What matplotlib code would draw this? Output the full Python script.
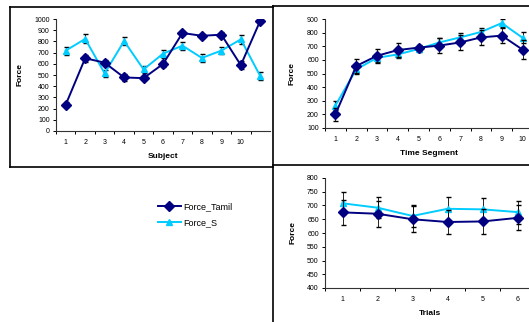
import matplotlib.pyplot as plt
from matplotlib.lines import Line2D

# ==========================================
# DATA
# ==========================================

subjects = list(range(1, 12))
subject_labels = ["1", "2", "3", "4", "5", "6", "7", "8", "9", "10", ""]
tamil_subject = [235, 650, 610, 478, 472, 598, 875, 850, 860, 588, 985]
tamil_subject_err = [20, 30, 25, 35, 20, 25, 20, 20, 20, 35, 15]
s_subject = [718, 822, 515, 803, 550, 690, 762, 652, 718, 818, 490]
s_subject_err = [35, 40, 30, 35, 30, 35, 35, 35, 30, 40, 35]

segments = list(range(1, 11))
tamil_segment = [200, 555, 630, 672, 690, 705, 728, 765, 778, 675]
tamil_segment_err = [50, 50, 50, 50, 20, 55, 55, 55, 55, 70]
s_segment = [265, 530, 615, 640, 680, 728, 765, 805, 870, 762]
s_segment_err = [30, 30, 30, 25, 25, 30, 30, 30, 30, 40]

trials = list(range(1, 7))
tamil_trial = [675, 670, 650, 640, 642, 655]
tamil_trial_err = [45, 48, 48, 45, 47, 45]
s_trial = [708, 692, 662, 688, 686, 676]
s_trial_err = [40, 38, 40, 42, 40, 42]

NAVY = "#000080"
CYAN = "#00CCFF"
plt.rcParams["font.family"] = ["Liberation Sans", "DejaVu Sans"]

W, H = 529, 322
fig = plt.figure(figsize=(W / 100, H / 100), dpi=100)


def box(l, t, r, b):
    # position in pixels (top-left origin) -> figure fraction
    return [l / W, 1 - b / H, (r - l) / W, (b - t) / H]


def draw(ax, x, y1, e1, y2, e2, xlim, ylim, step, xlabel, labels=None):
    ax.errorbar(x, y1, yerr=e1, color=NAVY, marker="D", markersize=5,
                lw=1.4, ecolor="black", elinewidth=0.6, capsize=1.8,
                label="Force_Tamil", zorder=3)
    ax.errorbar(x, y2, yerr=e2, color=CYAN, marker="^", markersize=5,
                lw=1.4, ecolor="black", elinewidth=0.6, capsize=1.8,
                label="Force_S", zorder=2)
    ax.set_xlim(*xlim)
    ax.set_ylim(*ylim)
    ax.set_yticks(range(ylim[0], ylim[1] + 1, step))
    ax.set_xticks(x)
    ax.set_xticklabels(labels if labels else [str(v) for v in x])
    ax.set_xticks([v + 0.5 for v in x[:-1]] + [x[0] - 0.5], minor=True)
    ax.tick_params(axis="x", which="major", length=0, labelsize=5, pad=6)
    ax.tick_params(axis="x", which="minor", length=2.5, width=0.7,
                   direction="out")
    ax.tick_params(axis="y", length=2.5, width=0.7, labelsize=5, pad=2)
    for s in ["top", "right"]:
        ax.spines[s].set_visible(False)
    for s in ["left", "bottom"]:
        ax.spines[s].set_linewidth(0.8)
        ax.spines[s].set_color("#333333")
    ax.set_xlabel(xlabel, fontsize=6, fontweight="bold", labelpad=5)
    ax.set_ylabel("Force", fontsize=6, fontweight="bold", labelpad=8)
    ax.patch.set_alpha(0)


# ==========================================
# SUBJECT CHART
# ==========================================

ax1 = fig.add_axes(box(56, 19, 270, 131))
draw(ax1, subjects, tamil_subject, tamil_subject_err, s_subject,
     s_subject_err, (0.5, 11.5), (0, 1000), 100, "Subject", subject_labels)

# ==========================================
# TIME SEGMENT CHART
# ==========================================

ax2 = fig.add_axes(box(325, 19, 533, 128))
draw(ax2, segments, tamil_segment, tamil_segment_err, s_segment,
     s_segment_err, (0.5, 10.5), (100, 900), 100, "Time Segment")

# ==========================================
# TRIALS CHART
# ==========================================

ax3 = fig.add_axes(box(325, 178, 535, 288))
draw(ax3, trials, tamil_trial, tamil_trial_err, s_trial, s_trial_err,
     (0.5, 6.5), (400, 800), 50, "Trials")

# ==========================================
# PANEL BORDERS AND LEGEND
# ==========================================

def seg(x0, y0, x1, y1):
    fig.add_artist(Line2D([x0 / W, x1 / W], [1 - y0 / H, 1 - y1 / H],
                          color="black", lw=1.2))

seg(10, 7, 273, 7)
seg(10, 7, 10, 167)
seg(10, 167, 273, 167)
seg(273, 6, 273, 322)
seg(273, 6, 529, 6)
seg(273, 165, 529, 165)

handles = [
    Line2D([], [], color=NAVY, marker="D", markersize=5, lw=1.4),
    Line2D([], [], color=CYAN, marker="^", markersize=5, lw=1.4),
]
fig.legend(handles, ["Force_Tamil", "Force_S"], loc="upper left",
           bbox_to_anchor=(150 / W, 1 - 194 / H), frameon=False,
           fontsize=6.5, handlelength=2.5, handletextpad=0.3,
           labelspacing=0.8)

plt.savefig("out.png", dpi=100)
plt.close()
